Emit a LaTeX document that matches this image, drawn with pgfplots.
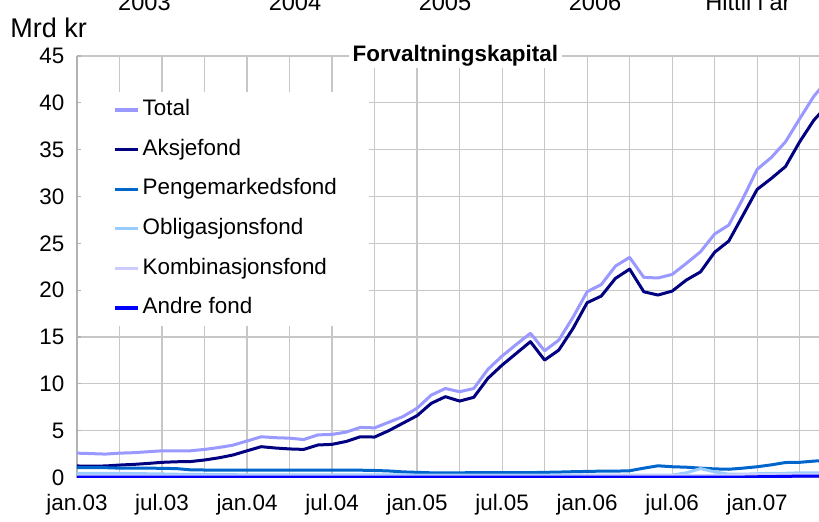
\documentclass[border=0pt]{standalone}
\usepackage{fontspec}
\setmainfont{Liberation Sans}
\usepackage{pgfplots}
\pgfplotsset{compat=1.18}
\usepackage{pgfplotstable}

\definecolor{cTotal}{HTML}{9999FF}
\definecolor{cAksje}{HTML}{000080}
\definecolor{cPenge}{HTML}{0066CC}
\definecolor{cObl}{HTML}{99CCFF}
\definecolor{cKomb}{HTML}{CCCCFF}
\definecolor{cAndre}{HTML}{0000FF}

\pgfplotstableread{
m total aksje penge obl komb andre
0 2.60 1.23 1.05 0.45 0.15 0.03
1 2.55 1.22 1.05 0.45 0.15 0.03
2 2.50 1.23 1.05 0.45 0.15 0.03
3 2.60 1.33 1.00 0.45 0.15 0.03
4 2.65 1.40 1.00 0.42 0.15 0.03
5 2.75 1.50 1.00 0.40 0.15 0.03
6 2.85 1.62 0.98 0.38 0.15 0.03
7 2.85 1.68 0.95 0.35 0.15 0.03
8 2.85 1.70 0.82 0.33 0.15 0.03
9 3.00 1.87 0.80 0.32 0.15 0.03
10 3.20 2.10 0.80 0.30 0.15 0.03
11 3.45 2.40 0.78 0.30 0.15 0.03
12 3.90 2.85 0.80 0.28 0.15 0.03
13 4.35 3.29 0.80 0.28 0.15 0.03
14 4.25 3.15 0.80 0.28 0.15 0.03
15 4.20 3.05 0.80 0.28 0.15 0.03
16 4.05 3.00 0.80 0.28 0.15 0.03
17 4.55 3.47 0.80 0.28 0.15 0.03
18 4.60 3.54 0.78 0.28 0.15 0.03
19 4.85 3.85 0.78 0.28 0.15 0.03
20 5.35 4.35 0.78 0.28 0.15 0.03
21 5.30 4.32 0.75 0.28 0.15 0.03
22 5.90 5.00 0.70 0.28 0.15 0.03
23 6.50 5.80 0.60 0.28 0.15 0.03
24 7.40 6.60 0.55 0.25 0.15 0.03
25 8.80 7.92 0.50 0.25 0.15 0.03
26 9.50 8.63 0.50 0.25 0.15 0.03
27 9.16 8.16 0.50 0.25 0.15 0.03
28 9.50 8.56 0.52 0.25 0.15 0.03
29 11.55 10.59 0.52 0.25 0.15 0.03
30 12.97 12.00 0.52 0.25 0.15 0.03
31 14.20 13.25 0.52 0.25 0.15 0.03
32 15.40 14.50 0.52 0.25 0.15 0.03
33 13.53 12.54 0.55 0.25 0.15 0.03
34 14.67 13.60 0.58 0.25 0.15 0.03
35 17.10 15.90 0.62 0.25 0.15 0.03
36 19.83 18.66 0.65 0.25 0.20 0.03
37 20.60 19.37 0.68 0.25 0.20 0.03
38 22.57 21.26 0.68 0.25 0.20 0.03
39 23.50 22.25 0.72 0.25 0.20 0.03
40 21.37 19.83 1.00 0.25 0.20 0.03
41 21.30 19.48 1.25 0.25 0.20 0.03
42 21.68 19.90 1.15 0.25 0.20 0.03
43 22.86 21.08 1.10 0.50 0.20 0.03
44 24.10 21.95 1.00 0.95 0.20 0.03
45 26.00 24.05 0.92 0.60 0.20 0.03
46 26.95 25.25 0.88 0.35 0.25 0.03
47 29.80 28.00 1.00 0.35 0.30 0.05
48 32.90 30.76 1.15 0.40 0.30 0.08
49 34.17 31.93 1.35 0.45 0.30 0.10
50 35.84 33.20 1.60 0.45 0.30 0.12
51 38.30 35.84 1.62 0.50 0.30 0.15
52 40.70 38.15 1.75 0.50 0.30 0.15
53 42.50 39.80 1.85 0.50 0.30 0.17
}\data

\begin{document}
\begin{tikzpicture}[x=1pt,y=1pt]
\useasboundingbox (0,0) rectangle (409.5,260.5);
\clip (0,0) rectangle (409.5,260.5);
\begin{axis}[
  at={(38.5pt,21.75pt)}, anchor=south west,
  scale only axis, width=371.25pt, height=210.75pt,
  xmin=0, xmax=52.4, ymin=0, ymax=45,
  axis lines*=left,
  axis line style={-, draw=black!30, line width=0.6pt},
  xtick={0,6,...,48},
  xticklabels={jan.03,jul.03,jan.04,jul.04,jan.05,jul.05,jan.06,jul.06,jan.07},
  minor xtick={3,9,...,51},
  ytick={0,5,...,45},
  grid=both,
  major grid style={draw=black!22, line width=0.6pt},
  minor grid style={draw=black!22, line width=0.6pt},
  tick style={draw=black!30, line width=0.6pt},
  major tick length=2pt, minor tick length=0pt,
  /pgf/number format/assume math mode=true,
  tick label style={font=\fontsize{11.2}{13}\selectfont, text=black},
  x tick label style={yshift=-5pt},
  y tick label style={xshift=-2.8pt},
  clip mode=individual,
  legend style={at={(0.0055,0.9167)}, anchor=north west, draw=none, fill=white,
    inner xsep=16pt, inner ysep=4pt, row sep=9.4pt, column sep=1.5pt,
    font=\fontsize{11.2}{13}\selectfont,
    nodes={inner sep=0pt, text height=8.1pt, text depth=2.3pt, anchor=west}},
  legend cell align=left,
  legend image code/.code={\draw[#1, line width=1.6pt] (0pt,0pt) -- (11.5pt,0pt);},
  every axis plot/.append style={line width=1.5pt, line join=round},
]
\addplot[cTotal] table[x=m, y=total] {\data};
\addlegendentry{Total}
\addplot[cAksje] table[x=m, y=aksje] {\data};
\addlegendentry{Aksjefond}
\addplot[cPenge] table[x=m, y=penge] {\data};
\addlegendentry{Pengemarkedsfond}
\addplot[cObl] table[x=m, y=obl] {\data};
\addlegendentry{Obligasjonsfond}
\addplot[cKomb] table[x=m, y=komb] {\data};
\addlegendentry{Kombinasjonsfond}
\addplot[cAndre] table[x=m, y=andre] {\data};
\addlegendentry{Andre fond}
\node[fill=white, inner xsep=2pt, inner ysep=1pt, font=\bfseries\fontsize{11.2}{13}\selectfont] at (axis cs:26.7,45) {Forvaltningskapital};
\end{axis}
\node[anchor=base west, inner sep=0pt, font=\fontsize{13.5}{15}\selectfont] at (5,241.5) {Mrd kr};
\begin{scope}[every node/.style={anchor=base, inner sep=0pt, font=\fontsize{11.8}{14}\selectfont}]
\node at (72.2,255) {2003};
\node at (147.5,255) {2004};
\node at (222.5,255) {2005};
\node at (297.5,255) {2006};
\node at (374,255) {Hittil i år};
\end{scope}
\end{tikzpicture}
\end{document}
